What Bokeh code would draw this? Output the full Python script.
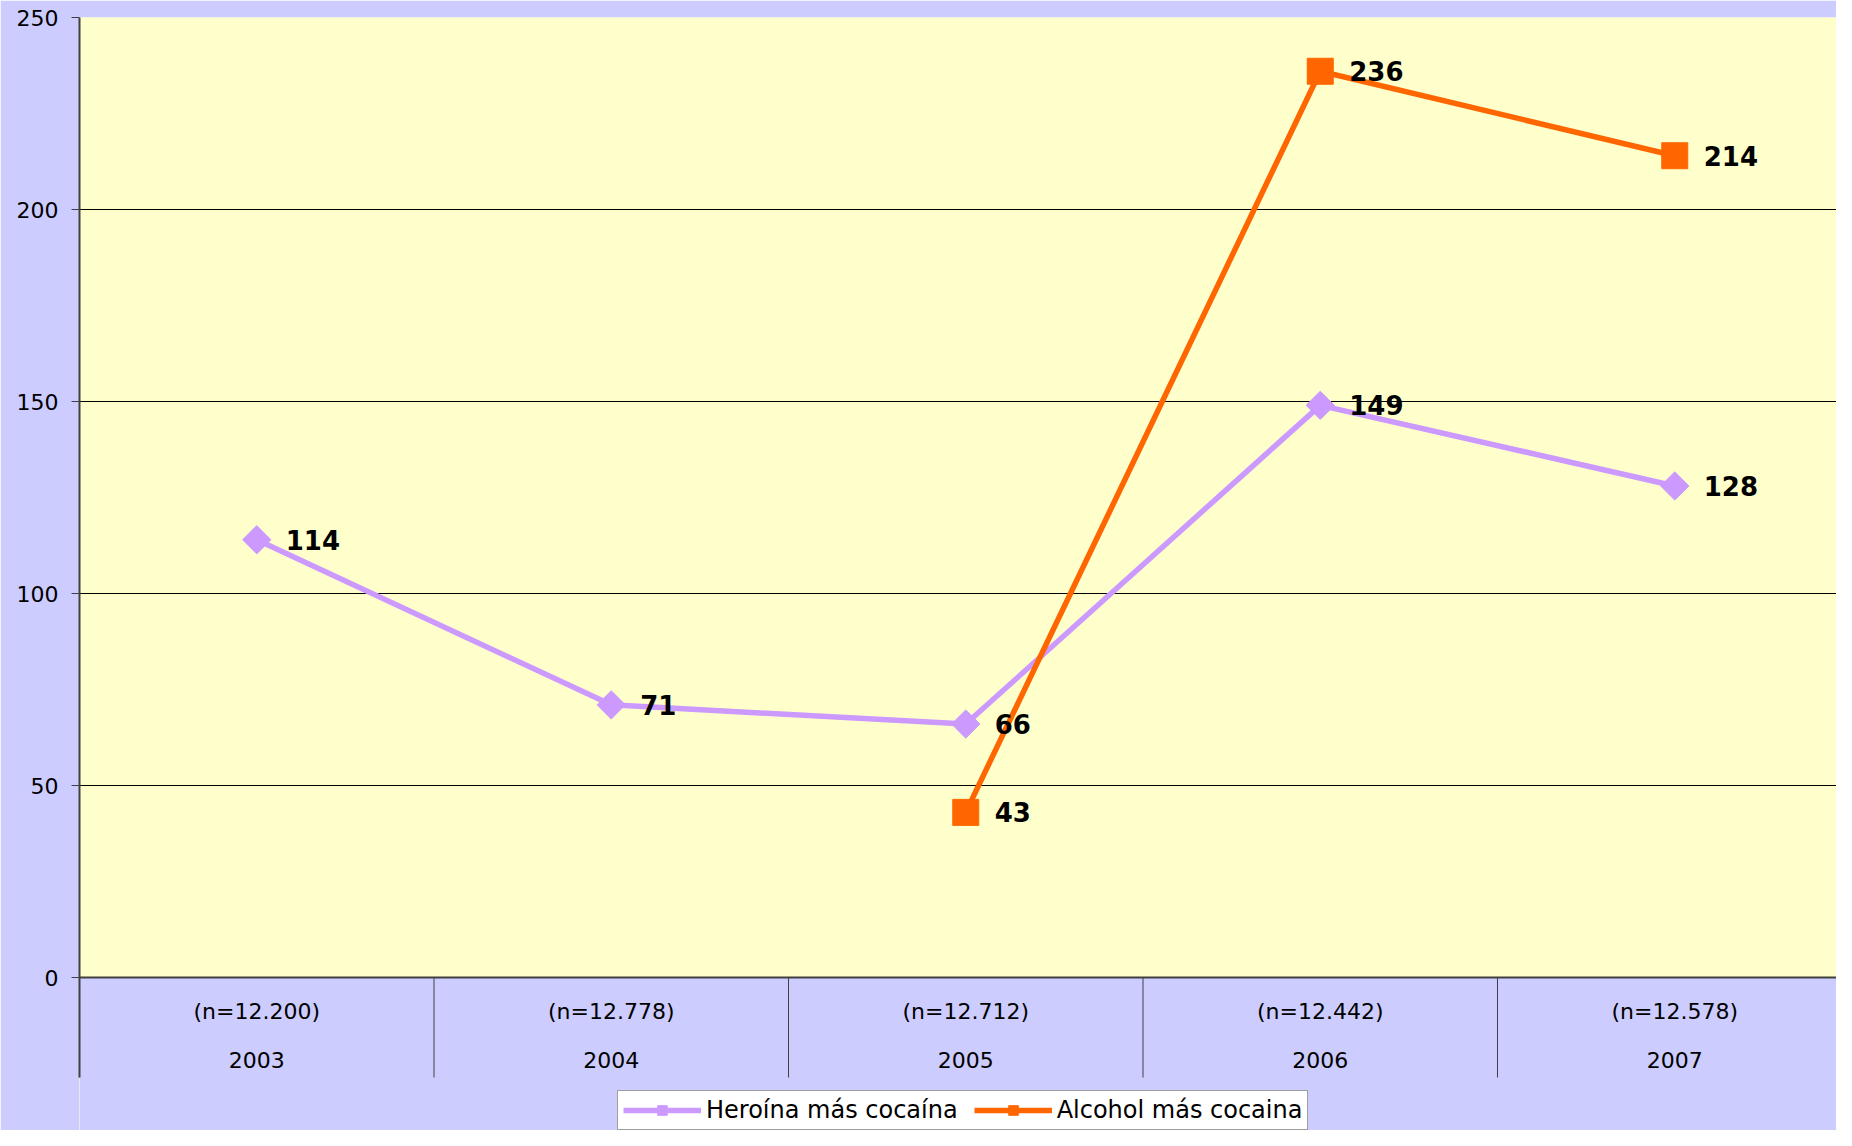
import numpy as np
from bokeh.plotting import figure
from bokeh.models import (ColumnDataSource, FixedTicker, Legend, LegendItem, Range1d,
                          BoxAnnotation, Span)
from bokeh.core.properties import value
from bokeh.embed import file_html
from bokeh.resources import INLINE

years = ["2003", "2004", "2005", "2006", "2007"]
n_labels = ["(n=12.200)", "(n=12.778)", "(n=12.712)", "(n=12.442)", "(n=12.578)"]
heroina = [114, 71, 66, 149, 128]
alcohol = [np.nan, np.nan, 43, 236, 214]
y_ticks = [0, 50, 100, 150, 200, 250]

FONT = "DejaVu Sans"
BG = "#CCCCFF"
PLOT_BG = "#FFFFCC"
C_HER = "#CC99FF"
C_ALC = "#FF6600"
AX = "#404040"

W, H = 1836, 1130
TOP, LEFT = 17, 79
ZERO_PX = 977                       # figure pixel row of value 0
PX_PER = (ZERO_PX - TOP) / 250.0     # pixels per unit
Y_MIN = -(H - ZERO_PX) / PX_PER
TICK_LEN = 100 / PX_PER              # category boundary tick length in data units
CAT_PX = 354.5

x = np.arange(len(years)) + 0.5
bounds = np.arange(len(years) + 1).astype(float)

p = figure(width=W, height=H, output_backend="svg", toolbar_location=None,
           x_range=Range1d(0, (W - LEFT) / CAT_PX), y_range=Range1d(Y_MIN, 250),
           min_border_left=LEFT, min_border_top=TOP, min_border_right=0, min_border_bottom=0,
           background_fill_color=PLOT_BG, border_fill_color=BG, outline_line_color=None,
           x_axis_type=None)

# y axis
p.yaxis.ticker = FixedTicker(ticks=y_ticks)
p.yaxis.bounds = (-TICK_LEN, 250)
p.yaxis.major_tick_out = 8
p.yaxis.major_tick_in = 0
p.yaxis.minor_tick_line_color = None
p.yaxis.axis_line_color = AX
p.yaxis.axis_line_width = 2
p.yaxis.major_tick_line_color = AX
p.yaxis.major_label_standoff = 13
p.yaxis.major_label_text_font = FONT
p.yaxis.major_label_text_font_size = "22px"
p.yaxis.major_label_text_color = "black"

p.ygrid.ticker = FixedTicker(ticks=y_ticks)
p.ygrid.grid_line_color = "black"
p.ygrid.grid_line_width = 1
p.xgrid.grid_line_color = None

# category band below zero
p.add_layout(BoxAnnotation(top=0, fill_color=BG, fill_alpha=1, line_color=None, level="underlay"))
p.add_layout(Span(location=0, dimension="width", line_color=AX, line_width=2))

# category boundary ticks
p.segment(x0=bounds, y0=np.zeros_like(bounds), x1=bounds, y1=np.full_like(bounds, -TICK_LEN),
          line_color=AX, line_width=1)

# category labels
cat_src = ColumnDataSource(dict(x=x, y=np.zeros_like(x), n=n_labels, yr=years))
p.text("x", "y", text="n", source=cat_src, y_offset=34, text_align="center",
       text_baseline="middle", text_font=value(FONT), text_font_size="22px", text_color="black")
p.text("x", "y", text="yr", source=cat_src, y_offset=82, text_align="center",
       text_baseline="middle", text_font=value(FONT), text_font_size="22px", text_color="black")

src_h = ColumnDataSource(dict(x=x, y=heroina, t=[str(v) for v in heroina]))
src_a = ColumnDataSource(dict(x=x, y=alcohol, t=["" if np.isnan(v) else str(int(v)) for v in alcohol]))

lh = p.line("x", "y", source=src_h, line_color=C_HER, line_width=5.5)
mh = p.scatter("x", "y", source=src_h, marker="square", angle=np.pi / 4, size=20,
               fill_color=C_HER, line_color=C_HER)
la = p.line("x", "y", source=src_a, line_color=C_ALC, line_width=5.5)
ma = p.scatter("x", "y", source=src_a, marker="square", size=26,
               fill_color=C_ALC, line_color=C_ALC)

for src in (src_h, src_a):
    p.text("x", "y", text="t", source=src, x_offset=29, text_baseline="middle",
           text_align="left", text_font=value(FONT), text_font_style="bold",
           text_font_size="26px", text_color="black")

legend = Legend(items=[LegendItem(label="Heroína más cocaína", renderers=[lh, mh]),
                       LegendItem(label="Alcohol más cocaina", renderers=[la, ma])],
                orientation="horizontal", location=(538, 0))
legend.label_text_font = FONT
legend.label_text_font_size = "24px"
legend.label_text_color = "black"
legend.glyph_width = 78
legend.glyph_height = 24
legend.label_standoff = 5
legend.spacing = 16
legend.padding = 5
legend.margin = 0
legend.border_line_color = AX
legend.border_line_width = 1
legend.background_fill_color = "white"
legend.background_fill_alpha = 1
p.add_layout(legend, "center")

open("out.html", "w").write(file_html(p, INLINE))
